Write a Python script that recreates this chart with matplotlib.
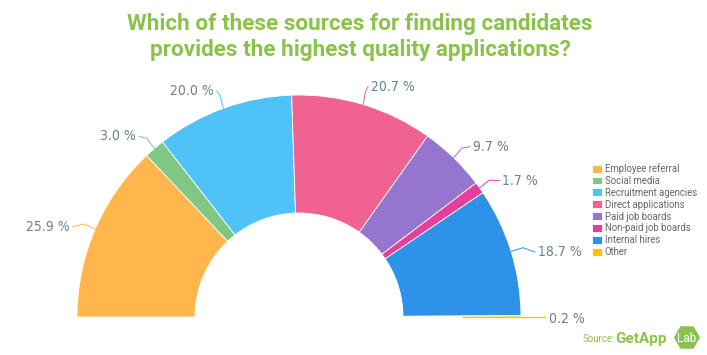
import numpy as np
import matplotlib
matplotlib.use("Agg")
import matplotlib.pyplot as plt
from matplotlib.patches import RegularPolygon

categories = ["Employee referral", "Social media", "Recruitment agencies",
              "Direct applications", "Paid job boards", "Non-paid job boards",
              "Internal hires", "Other"]
values = [25.9, 3.0, 20.0, 20.7, 9.7, 1.7, 18.7, 0.2]
value_labels = ["25.9 %", "3.0 %", "20.0 %", "20.7 %", "9.7 %", "1.7 %", "18.7 %", "0.2 %"]
colors = ["#FFB74D", "#81C784", "#4FC3F7", "#F06292", "#9575CD", "#E63E9B", "#2E93E8", "#FFC107"]
title = "Which of these sources for finding candidates\nprovides the highest quality applications?"

W, H = 707, 355
fig = plt.figure(figsize=(W / 100, H / 100), dpi=100)
ax = fig.add_axes([0, 0, 1, 1])

def Y(yp):
    return H - yp

cx, cy = 299, Y(317)
R, r_in = 222, 104
total = sum(values)

wedges, _ = ax.pie(values + [total], center=(cx, cy), radius=R, startangle=180,
                   counterclock=False, colors=colors + ["none"],
                   wedgeprops=dict(width=R - r_in, edgecolor="white", linewidth=0.6))
wedges[-1].set_visible(False)
ax.set_xlim(0, W)
ax.set_ylim(0, H)
ax.set_aspect("equal")
ax.axis("off")

label_color = "#6B7F8E"
cum = 0.0
for v, lab, col in zip(values, value_labels, colors):
    mid = cum + v / 2
    cum += v
    ang = np.deg2rad(180 - mid / total * 180)
    px, py = cx + R * np.cos(ang), cy + R * np.sin(ang)
    lx = cx + (R + 28) * np.cos(ang)
    ly = cy + (R + 28) * np.sin(ang) - 9
    left = np.cos(ang) < 0
    ex = lx + (3 if left else -3)
    if v < 0.5:
        ly = cy - 2
        ax.plot([cx + r_in + 60, lx - 4], [cy + 0.5, cy + 0.5], color=col, lw=1.0)
    else:
        ax.plot([px, (px + ex) / 2, ex],
                [py, (py + ly) / 2 + 4, ly], color=col, lw=0.7)
    ax.text(lx, ly, lab, ha="right" if left else "left", va="center",
            fontsize=10, color=label_color, family="DejaVu Sans", fontstretch="condensed")

fig.text(0.5 * (128 + 592) / W, 1 - 37 / H, title, ha="center", va="center",
         fontsize=16.2, fontweight="bold", color="#8BC34A", family=["Roboto", "DejaVu Sans"],
         linespacing=1.25)

leg = ax.legend(wedges[:len(categories)], categories, loc="upper left",
                bbox_to_anchor=(592 / W, 1 - 163 / H), frameon=False,
                handlelength=1.0, handleheight=0.9, handletextpad=0.35,
                labelspacing=0.2, borderaxespad=0, borderpad=0,
                prop=dict(family=["Roboto", "DejaVu Sans"], size=6.9))
for t in leg.get_texts():
    t.set_color("#666666")

src_col = "#8BC34A"
ax.text(583, Y(339), "Source:", ha="left", va="center", fontsize=7.0,
        color=src_col, family=["Roboto", "DejaVu Sans"])
ax.text(615, Y(339), "GetApp", ha="left", va="center", fontsize=11, fontweight="bold",
        color=src_col, family=["Roboto", "DejaVu Sans"])
hexa = RegularPolygon((687, Y(337.5)), numVertices=6, radius=13, orientation=np.pi / 6,
                      facecolor=src_col, edgecolor="none")
ax.add_patch(hexa)
ax.text(687, Y(338), "Lab", ha="center", va="center", fontsize=8.5, color="white",
        family=["Roboto", "DejaVu Sans"])

fig.savefig("out.png", dpi=100, facecolor="white")
